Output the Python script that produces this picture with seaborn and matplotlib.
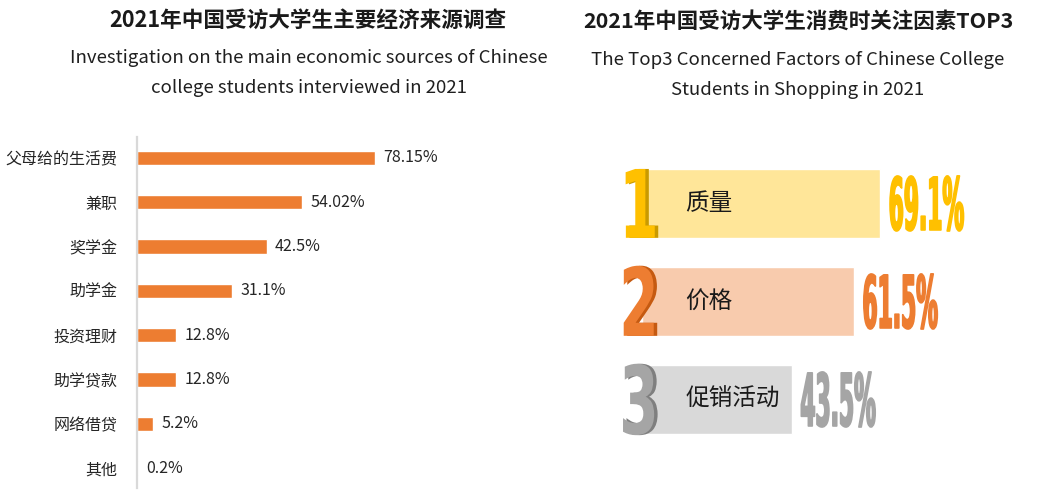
import matplotlib
matplotlib.use("Agg")
import matplotlib.pyplot as plt
import matplotlib.colors as mcolors
from matplotlib.patheffects import AbstractPathEffect
from matplotlib.transforms import Affine2D
import seaborn as sns

# ---------------- data ----------------
sources = ['父母给的生活费', '兼职', '奖学金', '助学金', '投资理财', '助学贷款', '网络借贷', '其他']
source_values = [78.15, 54.02, 42.5, 31.1, 12.8, 12.8, 5.2, 0.2]
source_labels = ['78.15%', '54.02%', '42.5%', '31.1%', '12.8%', '12.8%', '5.2%', '0.2%']

factors = ['质量', '价格', '促销活动']
factor_values = [69.1, 61.5, 43.5]
factor_labels = ['69.1%', '61.5%', '43.5%']
ranks = ['1', '2', '3']

left_title = '2021年中国受访大学生主要经济来源调查'
left_sub = 'Investigation on the main economic sources of Chinese\ncollege students interviewed in 2021'
right_title = '2021年中国受访大学生消费时关注因素TOP3'
right_sub = 'The Top3 Concerned Factors of Chinese College\nStudents in Shopping in 2021'

# ---------------- style ----------------
sns.set_style('white')
plt.rcParams['font.family'] = ['Noto Sans CJK SC', 'DejaVu Sans']

ORANGE = '#ED7D31'
bar_light = ['#FFE699', '#F8CBAD', '#D9D9D9']
rank_front = ['#FFC000', '#ED7D31', '#A5A5A5']
rank_side = ['#C99A00', '#C55A11', '#7F7F7F']
value_col = ['#FFC000', '#ED7D31', '#A5A5A5']


class Squeeze(AbstractPathEffect):
    """Draw text glyphs scaled (sx, sy) about their baseline origin,
    imitating a narrow, tall display face."""

    def __init__(self, sx, sy=1.0, offset=(0, 0), color=None, stroke=0.0):
        super().__init__(offset)
        self.sx = sx
        self.sy = sy
        self.color = color
        self.stroke = stroke

    def draw_path(self, renderer, gc, tpath, affine, rgbFace=None):
        gc0 = renderer.new_gc()
        gc0.copy_properties(gc)
        face = mcolors.to_rgba(self.color) if self.color is not None else rgbFace
        if self.stroke > 0:
            gc0.set_linewidth(self.stroke)
            gc0.set_foreground(face)
        tr = Affine2D().scale(self.sx, self.sy) + affine + self._offset_transform(renderer)
        renderer.draw_path(gc0, tpath, tr, face)
        gc0.restore()


W, H = 1059, 499
fig = plt.figure(figsize=(W / 100, H / 100), dpi=100)
fig.patch.set_facecolor('white')


def rect(x0, y0, x1, y1):
    return [x0 / W, 1 - y1 / H, (x1 - x0) / W, (y1 - y0) / H]


# ---------------- left chart ----------------
ax = fig.add_axes(rect(137, 137, 442, 488))
sns.barplot(x=source_values, y=sources, color=ORANGE, saturation=1,
            width=0.32, orient='h', ax=ax)
ax.set_xlim(0, 100)
ax.set_ylim(7.45, -0.47)
ax.set_xlabel('')
ax.set_ylabel('')
ax.set_xticks([])
for s in ['top', 'right', 'bottom']:
    ax.spines[s].set_visible(False)
ax.spines['left'].set_color('#D9D9D9')
ax.spines['left'].set_linewidth(1.6)
ax.tick_params(axis='y', length=0, pad=14, labelsize=11.5, labelcolor='#262626')
ax.bar_label(ax.containers[0], labels=source_labels, padding=6,
             fontsize=11.5, color='#262626')

fig.text(308 / W, 1 - 20 / H, left_title, ha='center', va='center',
         fontsize=15.6, fontweight='bold', color='#1a1a1a')
fig.text(309 / W, 1 - 73 / H, left_sub, ha='center', va='center',
         fontsize=13.4, color='#1f1f1f', linespacing=1.8)

# ---------------- right chart ----------------
ax2 = fig.add_axes(rect(642, 150, 987, 450))
sns.barplot(x=factor_values, y=factors, hue=factors, palette=bar_light,
            saturation=1, width=0.71, orient='h', legend=False, ax=ax2)
ax2.set_xlim(0, 100)
ax2.set_ylim(2.515, -0.546)
ax2.axis('off')

RANK_SX = 0.6
VAL_SX, VAL_SY = 0.49, 1.64
for i, (lab, val, vtxt, rk) in enumerate(zip(factors, factor_values, factor_labels, ranks)):
    # rank numeral with darker extrusion
    ax2.text(-6.6, i + 0.35, rk, fontsize=68, fontweight='bold', family='DejaVu Sans',
             ha='left', va='baseline', clip_on=False, zorder=5,
             path_effects=[Squeeze(RANK_SX, offset=(2.5, 0), color=rank_side[i]),
                           Squeeze(RANK_SX, color=rank_front[i])])
    # factor label inside the bar
    ax2.text(12.5, i, lab, fontsize=17, color='#1a1a1a', ha='left', va='center', zorder=5)
    # big value
    ax2.text(val + 2.4, i + 0.27, vtxt, fontsize=32, fontweight='bold', family='DejaVu Sans',
             ha='left', va='baseline', clip_on=False, zorder=5,
             path_effects=[Squeeze(VAL_SX, VAL_SY, color=value_col[i], stroke=1.2)])

fig.text(798 / W, 1 - 21 / H, right_title, ha='center', va='center',
         fontsize=15.5, fontweight='bold', color='#1a1a1a')
fig.text(798 / W, 1 - 75 / H, right_sub, ha='center', va='center',
         fontsize=13.4, color='#1f1f1f', linespacing=1.82)

fig.savefig('out.png', dpi=100, facecolor='white')
